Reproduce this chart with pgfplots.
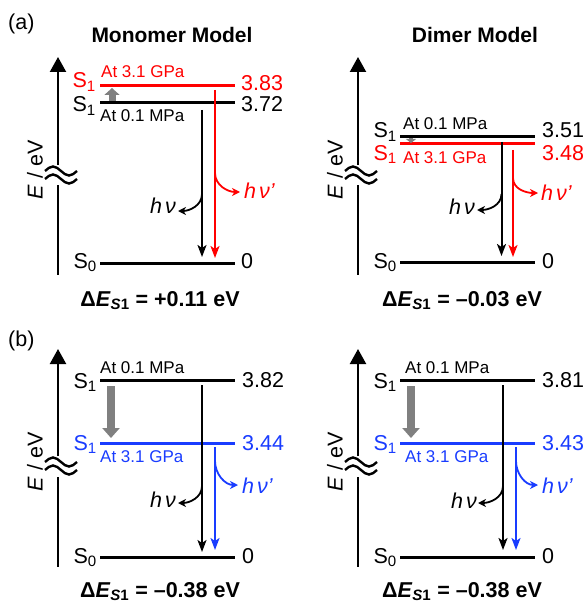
\documentclass[border=0pt]{standalone}
\usepackage{fontspec}
\setmainfont{Liberation Sans}
\usepackage{pgfplots}
\pgfplotsset{compat=1.18}
\usetikzlibrary{arrows.meta}
\definecolor{myred}{RGB}{255,0,0}
\definecolor{myblue}{RGB}{25,60,255}
\definecolor{mygray}{RGB}{128,128,128}
\newcommand{\fsL}{\fontsize{21.5bp}{25bp}\selectfont}
\newcommand{\fsT}{\fontsize{21bp}{25bp}\selectfont\bfseries}
\newcommand{\fsD}{\fontsize{21.5bp}{25bp}\selectfont\bfseries}
\newcommand{\fsS}{\fontsize{17bp}{20bp}\selectfont}
\newcommand{\Sone}{S\textsubscript{1}}
\newcommand{\Szero}{S\textsubscript{0}}
\newcommand{\hnu}{\textit{h\hspace{3bp}ν}}
\newcommand{\hnup}{\textit{h\hspace{3bp}ν’}}
\begin{document}
\begin{tikzpicture}[
  lab/.style={font=\fsL, inner sep=0pt},
  sml/.style={font=\fsS, inner sep=0pt},
  ttl/.style={font=\fsT, inner sep=0pt},
  dlt/.style={font=\fsD, inner sep=0pt},
  lev/.style={line width=3bp},
  emi/.style={line width=2bp, -{Stealth[length=12bp,width=9bp,inset=3bp]}},
  curl/.style={line width=1.8bp, -{Stealth[length=8bp,width=8bp,inset=2.5bp]}},
  vax/.style={black, line width=2.2bp},
  wav/.style={line width=2.4bp},
  gshift/.style={mygray, line width=8bp, -{Triangle[length=10bp,width=17bp]}}
]
\begin{axis}[scale only axis, width=585bp, height=605bp,
  xmin=0, xmax=585, ymin=0, ymax=605, y dir=reverse,
  hide axis, clip=false]

% ================= (a) Monomer model =================
\node[lab, anchor=base west] at (axis cs:8,30) {(a)};
\node[ttl, anchor=base] at (axis cs:172,43) {Monomer Model};
\addplot[vax, -{Triangle[length=15bp,width=16bp]}] coordinates {(58,165) (58,57)};
\addplot[vax] coordinates {(58,185) (58,275)};
\draw[wav] (axis cs:45,171) sin (axis cs:53,166.5) cos (axis cs:61,171) sin (axis cs:69,175.5) cos (axis cs:77,171);
\draw[wav] (axis cs:45,179) sin (axis cs:53,174.5) cos (axis cs:61,179) sin (axis cs:69,183.5) cos (axis cs:77,179);
\node[lab, rotate=90, anchor=center] at (axis cs:35,170) {\textit{E} / eV};
\addplot[myred, lev] coordinates {(100,86) (235,86)};
\addplot[black, lev] coordinates {(100,103) (235,103)};
\addplot[black, lev] coordinates {(100,263) (235,263)};
\addplot[gshift, line width=7bp, -{Triangle[length=7bp,width=15bp]}] coordinates {(112,101) (112,88)};
\node[lab, myred, anchor=base east] at (axis cs:96,88) {\Sone};
\node[lab, anchor=base east] at (axis cs:96,112) {\Sone};
\node[lab, anchor=base east] at (axis cs:97,268) {\Szero};
\node[lab, myred, anchor=base west] at (axis cs:241,91) {3.83};
\node[lab, anchor=base west] at (axis cs:241,112) {3.72};
\node[lab, anchor=base west] at (axis cs:241,268) {0};
\node[sml, myred, anchor=base west] at (axis cs:101,78) {At 3.1 GPa};
\node[sml, anchor=base west] at (axis cs:100,122) {At 0.1 MPa};
\addplot[black, emi] coordinates {(202,110) (202,257)};
\addplot[myred, emi] coordinates {(215,90) (215,258)};
\draw[black, curl] (axis cs:202,194) to[out=270,in=0] (axis cs:178,211);
\draw[myred, curl] (axis cs:215,173) to[out=270,in=180] (axis cs:240,192);
\node[lab, anchor=base east] at (axis cs:176,213) {\hnu};
\node[lab, myred, anchor=base west] at (axis cs:244,198) {\hnup};
\node[dlt, anchor=base] at (axis cs:160,306) {Δ\textit{E}\textsubscript{\textit{S}1} = +0.11 eV};

% ================= (a) Dimer model =================
\node[ttl, anchor=base] at (axis cs:475,43) {Dimer Model};
\addplot[vax, -{Triangle[length=15bp,width=16bp]}] coordinates {(358,165) (358,57)};
\addplot[vax] coordinates {(358,185) (358,275)};
\draw[wav] (axis cs:345,171) sin (axis cs:353,166.5) cos (axis cs:361,171) sin (axis cs:369,175.5) cos (axis cs:377,171);
\draw[wav] (axis cs:345,179) sin (axis cs:353,174.5) cos (axis cs:361,179) sin (axis cs:369,183.5) cos (axis cs:377,179);
\node[lab, rotate=90, anchor=center] at (axis cs:335,170) {\textit{E} / eV};
\addplot[black, lev] coordinates {(400,137) (535,137)};
\addplot[myred, lev] coordinates {(400,144) (535,144)};
\addplot[black, lev] coordinates {(400,262) (535,262)};
\addplot[mygray, line width=4bp, -{Triangle[length=4bp,width=10bp]}] coordinates {(411,138.5) (411,143)};
\node[lab, anchor=base east] at (axis cs:397,138) {\Sone};
\node[lab, myred, anchor=base east] at (axis cs:397,160) {\Sone};
\node[lab, anchor=base east] at (axis cs:397,268) {\Szero};
\node[lab, anchor=base west] at (axis cs:542,138) {3.51};
\node[lab, myred, anchor=base west] at (axis cs:542,160) {3.48};
\node[lab, anchor=base west] at (axis cs:542,268) {0};
\node[sml, anchor=base west] at (axis cs:403,130) {At 0.1 MPa};
\node[sml, myred, anchor=base west] at (axis cs:403,163) {At 3.1 GPa};
\addplot[black, emi] coordinates {(501.5,142) (501.5,256)};
\addplot[myred, emi] coordinates {(513,150) (513,257)};
\draw[black, curl] (axis cs:501.5,194) to[out=270,in=0] (axis cs:477,210);
\draw[myred, curl] (axis cs:513,178) to[out=270,in=180] (axis cs:538,193);
\node[lab, anchor=base east] at (axis cs:475,214) {\hnu};
\node[lab, myred, anchor=base west] at (axis cs:541,200) {\hnup};
\node[dlt, anchor=base] at (axis cs:462,306) {Δ\textit{E}\textsubscript{\textit{S}1} = –0.03 eV};

% ================= (b) left =================
\node[lab, anchor=base west] at (axis cs:8,346) {(b)};
\addplot[vax, -{Triangle[length=15bp,width=16bp]}] coordinates {(58,456) (58,349)};
\addplot[vax] coordinates {(58,477) (58,567)};
\draw[wav] (axis cs:45,462) sin (axis cs:53,457.5) cos (axis cs:61,462) sin (axis cs:69,466.5) cos (axis cs:77,462);
\draw[wav] (axis cs:45,470) sin (axis cs:53,465.5) cos (axis cs:61,470) sin (axis cs:69,474.5) cos (axis cs:77,470);
\node[lab, rotate=90, anchor=center] at (axis cs:35,462) {\textit{E} / eV};
\addplot[black, lev] coordinates {(100,380) (235,380)};
\addplot[myblue, lev] coordinates {(100,443) (235,443)};
\addplot[black, lev] coordinates {(100,557) (235,557)};
\addplot[gshift] coordinates {(111,386) (111,438)};
\node[lab, anchor=base east] at (axis cs:97,388) {\Sone};
\node[lab, myblue, anchor=base east] at (axis cs:97,450) {\Sone};
\node[lab, anchor=base east] at (axis cs:97,563) {\Szero};
\node[lab, anchor=base west] at (axis cs:242,387) {3.82};
\node[lab, myblue, anchor=base west] at (axis cs:242,450) {3.44};
\node[lab, anchor=base west] at (axis cs:242,563) {0};
\node[sml, anchor=base west] at (axis cs:100,373) {At 0.1 MPa};
\node[sml, myblue, anchor=base west] at (axis cs:100,462) {At 3.1 GPa};
\addplot[black, emi] coordinates {(202,385) (202,552)};
\addplot[myblue, emi] coordinates {(215,447) (215,550)};
\draw[black, curl] (axis cs:202,486) to[out=270,in=0] (axis cs:178,503);
\draw[myblue, curl] (axis cs:215,461) to[out=270,in=180] (axis cs:238,485);
\node[lab, anchor=base east] at (axis cs:176,507) {\hnu};
\node[lab, myblue, anchor=base west] at (axis cs:242,493) {\hnup};
\node[dlt, anchor=base] at (axis cs:160,597) {Δ\textit{E}\textsubscript{\textit{S}1} = –0.38 eV};

% ================= (b) right =================
\addplot[vax, -{Triangle[length=15bp,width=16bp]}] coordinates {(358,456) (358,349)};
\addplot[vax] coordinates {(358,477) (358,567)};
\draw[wav] (axis cs:345,462) sin (axis cs:353,457.5) cos (axis cs:361,462) sin (axis cs:369,466.5) cos (axis cs:377,462);
\draw[wav] (axis cs:345,470) sin (axis cs:353,465.5) cos (axis cs:361,470) sin (axis cs:369,474.5) cos (axis cs:377,470);
\node[lab, rotate=90, anchor=center] at (axis cs:335,462) {\textit{E} / eV};
\addplot[black, lev] coordinates {(400,380) (535,380)};
\addplot[myblue, lev] coordinates {(400,443) (535,443)};
\addplot[black, lev] coordinates {(400,557) (535,557)};
\addplot[gshift] coordinates {(411,386) (411,438)};
\node[lab, anchor=base east] at (axis cs:397,388) {\Sone};
\node[lab, myblue, anchor=base east] at (axis cs:397,450) {\Sone};
\node[lab, anchor=base east] at (axis cs:397,563) {\Szero};
\node[lab, anchor=base west] at (axis cs:542,387) {3.81};
\node[lab, myblue, anchor=base west] at (axis cs:542,450) {3.43};
\node[lab, anchor=base west] at (axis cs:542,563) {0};
\node[sml, anchor=base west] at (axis cs:405,373) {At 0.1 MPa};
\node[sml, myblue, anchor=base west] at (axis cs:405,462) {At 3.1 GPa};
\addplot[black, emi] coordinates {(503,385) (503,550)};
\addplot[myblue, emi] coordinates {(516,447) (516,550)};
\draw[black, curl] (axis cs:503,486) to[out=270,in=0] (axis cs:478,503);
\draw[myblue, curl] (axis cs:516,461) to[out=270,in=180] (axis cs:538,485);
\node[lab, anchor=base east] at (axis cs:477,508) {\hnu};
\node[lab, myblue, anchor=base west] at (axis cs:542,493) {\hnup};
\node[dlt, anchor=base] at (axis cs:462,597) {Δ\textit{E}\textsubscript{\textit{S}1} = –0.38 eV};
\end{axis}
\pgfresetboundingbox
\path[use as bounding box] (0,0) rectangle (585bp,605bp);
\end{tikzpicture}
\end{document}
